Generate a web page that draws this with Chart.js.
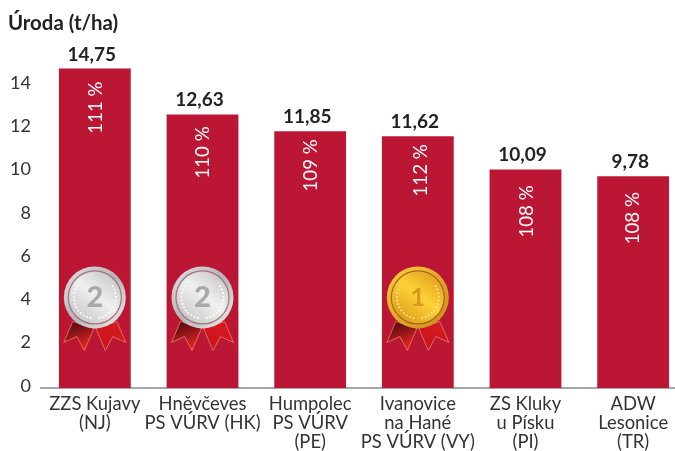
<!DOCTYPE html>
<html>
<head>
<meta charset="utf-8">
<style>
html, body { margin: 0; padding: 0; background: #fff; overflow: hidden; }
#wrap { width: 675px; height: 451px; overflow: hidden; }
</style>
<script src="https://cdn.jsdelivr.net/npm/chart.js@4"></script>
</head>
<body>
<div id="wrap"><canvas id="myChart" width="690" height="451"></canvas></div>
<script>
const FONT = "Lato, 'Open Sans', sans-serif";
const categories = [
	["ZZS Kujavy", "(NJ)"],
	["Hněvčeves", "PS VÚRV (HK)"],
	["Humpolec", "PS VÚRV", "(PE)"],
	["Ivanovice", "na Hané", "PS VÚRV (VY)"],
	["ZS Kluky", "u Písku", "(PI)"],
	["ADW", "Lesonice", "(TR)"],
];
const yields = [14.75, 12.63, 11.85, 11.62, 10.09, 9.78];
const percents = [111, 110, 109, 112, 108, 108];
const medals = [2, 2, 0, 1, 0, 0];
const yTicks = [0, 2, 4, 6, 8, 10, 12, 14];

// percent labels are not placed evenly in the original
const percentDown = [39, 38, 34, 34, 42, 42];
const percentRight = [1, 0, 1, 3, 1, 0];

// value labels above the bars and rotated percents inside them
const barLabels = {
	id: "barLabels",
	afterDatasetsDraw(chart) {
		const ctx = chart.ctx;
		const bars = chart.getDatasetMeta(0).data;
		ctx.save();
		bars.forEach((bar, i) => {
			ctx.fillStyle = "#222222";
			ctx.font = "bold 19px " + FONT;
			ctx.textAlign = "center";
			ctx.textBaseline = "alphabetic";
			ctx.fillText(yields[i].toFixed(2).replace(".", ","), bar.x - 3, bar.y - 8);

			ctx.save();
			ctx.translate(bar.x + percentRight[i], bar.y + percentDown[i]);
			ctx.rotate(-Math.PI / 2);
			ctx.fillStyle = "#ffffff";
			ctx.font = "18.7px " + FONT;
			ctx.textBaseline = "middle";
			ctx.fillText(percents[i] + " %", 0, 0);
			ctx.restore();
		});
		ctx.restore();
	},
};

function ribbon(ctx, x, y, dir, dark) {
	const g = ctx.createLinearGradient(x + dir * 22, y + 24, x + dir * 12, y + 50);
	g.addColorStop(0, dark ? "#4f0b12" : "#d81a20");
	g.addColorStop(1, dark ? "#e2231f" : "#c8141c");
	ctx.fillStyle = g;
	ctx.strokeStyle = "#ea8f72";
	ctx.lineWidth = 0.7;
	ctx.beginPath();
	ctx.moveTo(x + dir * 1, y + 31);
	ctx.lineTo(x + dir * 22, y + 24);
	ctx.lineTo(x + dir * 31, y + 45);
	ctx.lineTo(x + dir * 18, y + 39);
	ctx.lineTo(x + dir * 10.5, y + 53);
	ctx.closePath();
	ctx.fill();
	ctx.stroke();
}

// medals sit at a fixed value on the y scale
const MEDAL_VALUE = 4.18;
const medalDraw = {
	id: "medalDraw",
	afterDatasetsDraw(chart) {
		const ctx = chart.ctx;
		const bars = chart.getDatasetMeta(0).data;
		const y = chart.scales.y.getPixelForValue(MEDAL_VALUE);
		bars.forEach((bar, i) => {
			if (!medals[i]) return;
			const x = bar.x;
			const gold = medals[i] === 1;
			ctx.save();
			ribbon(ctx, x, y, -1, true);
			ribbon(ctx, x, y, 1, false);

			const rim = ctx.createLinearGradient(x - 24, y - 24, x + 24, y + 24);
			const face = ctx.createLinearGradient(x - 20, y + 22, x + 16, y - 24);
			if (gold) {
				rim.addColorStop(0, "#f4c83a"); rim.addColorStop(0.5, "#e3a928"); rim.addColorStop(1, "#cf921e");
				face.addColorStop(0, "#e0991a"); face.addColorStop(0.55, "#fcd238"); face.addColorStop(1, "#e3a11c");
			} else {
				rim.addColorStop(0, "#d8d8da"); rim.addColorStop(0.5, "#b4b4b6"); rim.addColorStop(1, "#e4e4e4");
				face.addColorStop(0, "#c6c6c6"); face.addColorStop(0.55, "#f0f0f0"); face.addColorStop(1, "#c9c9c9");
			}
			ctx.fillStyle = rim;
			ctx.beginPath(); ctx.arc(x, y, 31, 0, Math.PI * 2); ctx.fill();
			ctx.strokeStyle = gold ? "#a9681c" : "#a8747e";
			ctx.lineWidth = 1.2;
			ctx.beginPath(); ctx.arc(x, y, 26.5, 0, Math.PI * 2); ctx.stroke();
			ctx.fillStyle = face;
			ctx.beginPath(); ctx.arc(x, y, 25.5, 0, Math.PI * 2); ctx.fill();

			// small laurel dots round the lower part of the face
			ctx.fillStyle = gold ? "#fbe58a" : "#ffffff";
			for (let a = 12; a <= 125; a += 10) {
				const r = (a * Math.PI) / 180;
				[-1, 1].forEach((side) => {
					ctx.beginPath();
					ctx.arc(x + side * Math.sin(r) * 21, y + Math.cos(r) * 21, 1, 0, Math.PI * 2);
					ctx.fill();
				});
			}

			ctx.fillStyle = gold ? "#d79a1a" : "#a9a9ab";
			ctx.font = (gold ? "bold 25px " : "900 29px ") + FONT;
			ctx.textAlign = "center";
			ctx.textBaseline = "middle";
			ctx.fillText(String(medals[i]), x, y);
			ctx.restore();
		});
	},
};

new Chart("myChart", {
	type: "bar",
	data: {
		labels: categories,
		datasets: [
			{
				backgroundColor: "#BB1735",
				data: yields,
				barPercentage: 1,
				categoryPercentage: 0.667,
			},
		],
	},
	options: {
		responsive: false,
		animation: false,
		layout: { padding: { left: 8, right: 3, top: 8, bottom: 0 } },
		plugins: {
			legend: { display: false },
			tooltip: { enabled: false },
			title: {
				display: true,
				text: "Úroda (t/ha)",
				align: "start",
				color: "#222222",
				font: { family: FONT, size: 20.4, weight: "bold" },
				padding: { top: 3, bottom: 6 },
			},
		},
		scales: {
			x: {
				grid: { display: false, drawTicks: false },
				border: { color: "#a6a6a6", width: 2 },
				afterFit(axis) {
					axis.height = 63;
				},
				ticks: {
					color: "#333333",
					font: { family: FONT, size: 18.4, lineHeight: 1.02 },
					maxRotation: 0,
					autoSkip: false,
					padding: 7,
				},
			},
			y: {
				min: 0,
				max: 16,
				grid: { display: false, drawTicks: false },
				border: { display: false },
				afterBuildTicks(axis) {
					axis.ticks = yTicks.map((v) => ({ value: v }));
				},
				afterFit(axis) {
					axis.width = 33;
				},
				ticks: {
					color: "#333333",
					font: { family: FONT, size: 18 },
					padding: 10,
					labelOffset: -2,
				},
			},
		},
	},
	plugins: [barLabels, medalDraw],
});
</script>
</body>
</html>
